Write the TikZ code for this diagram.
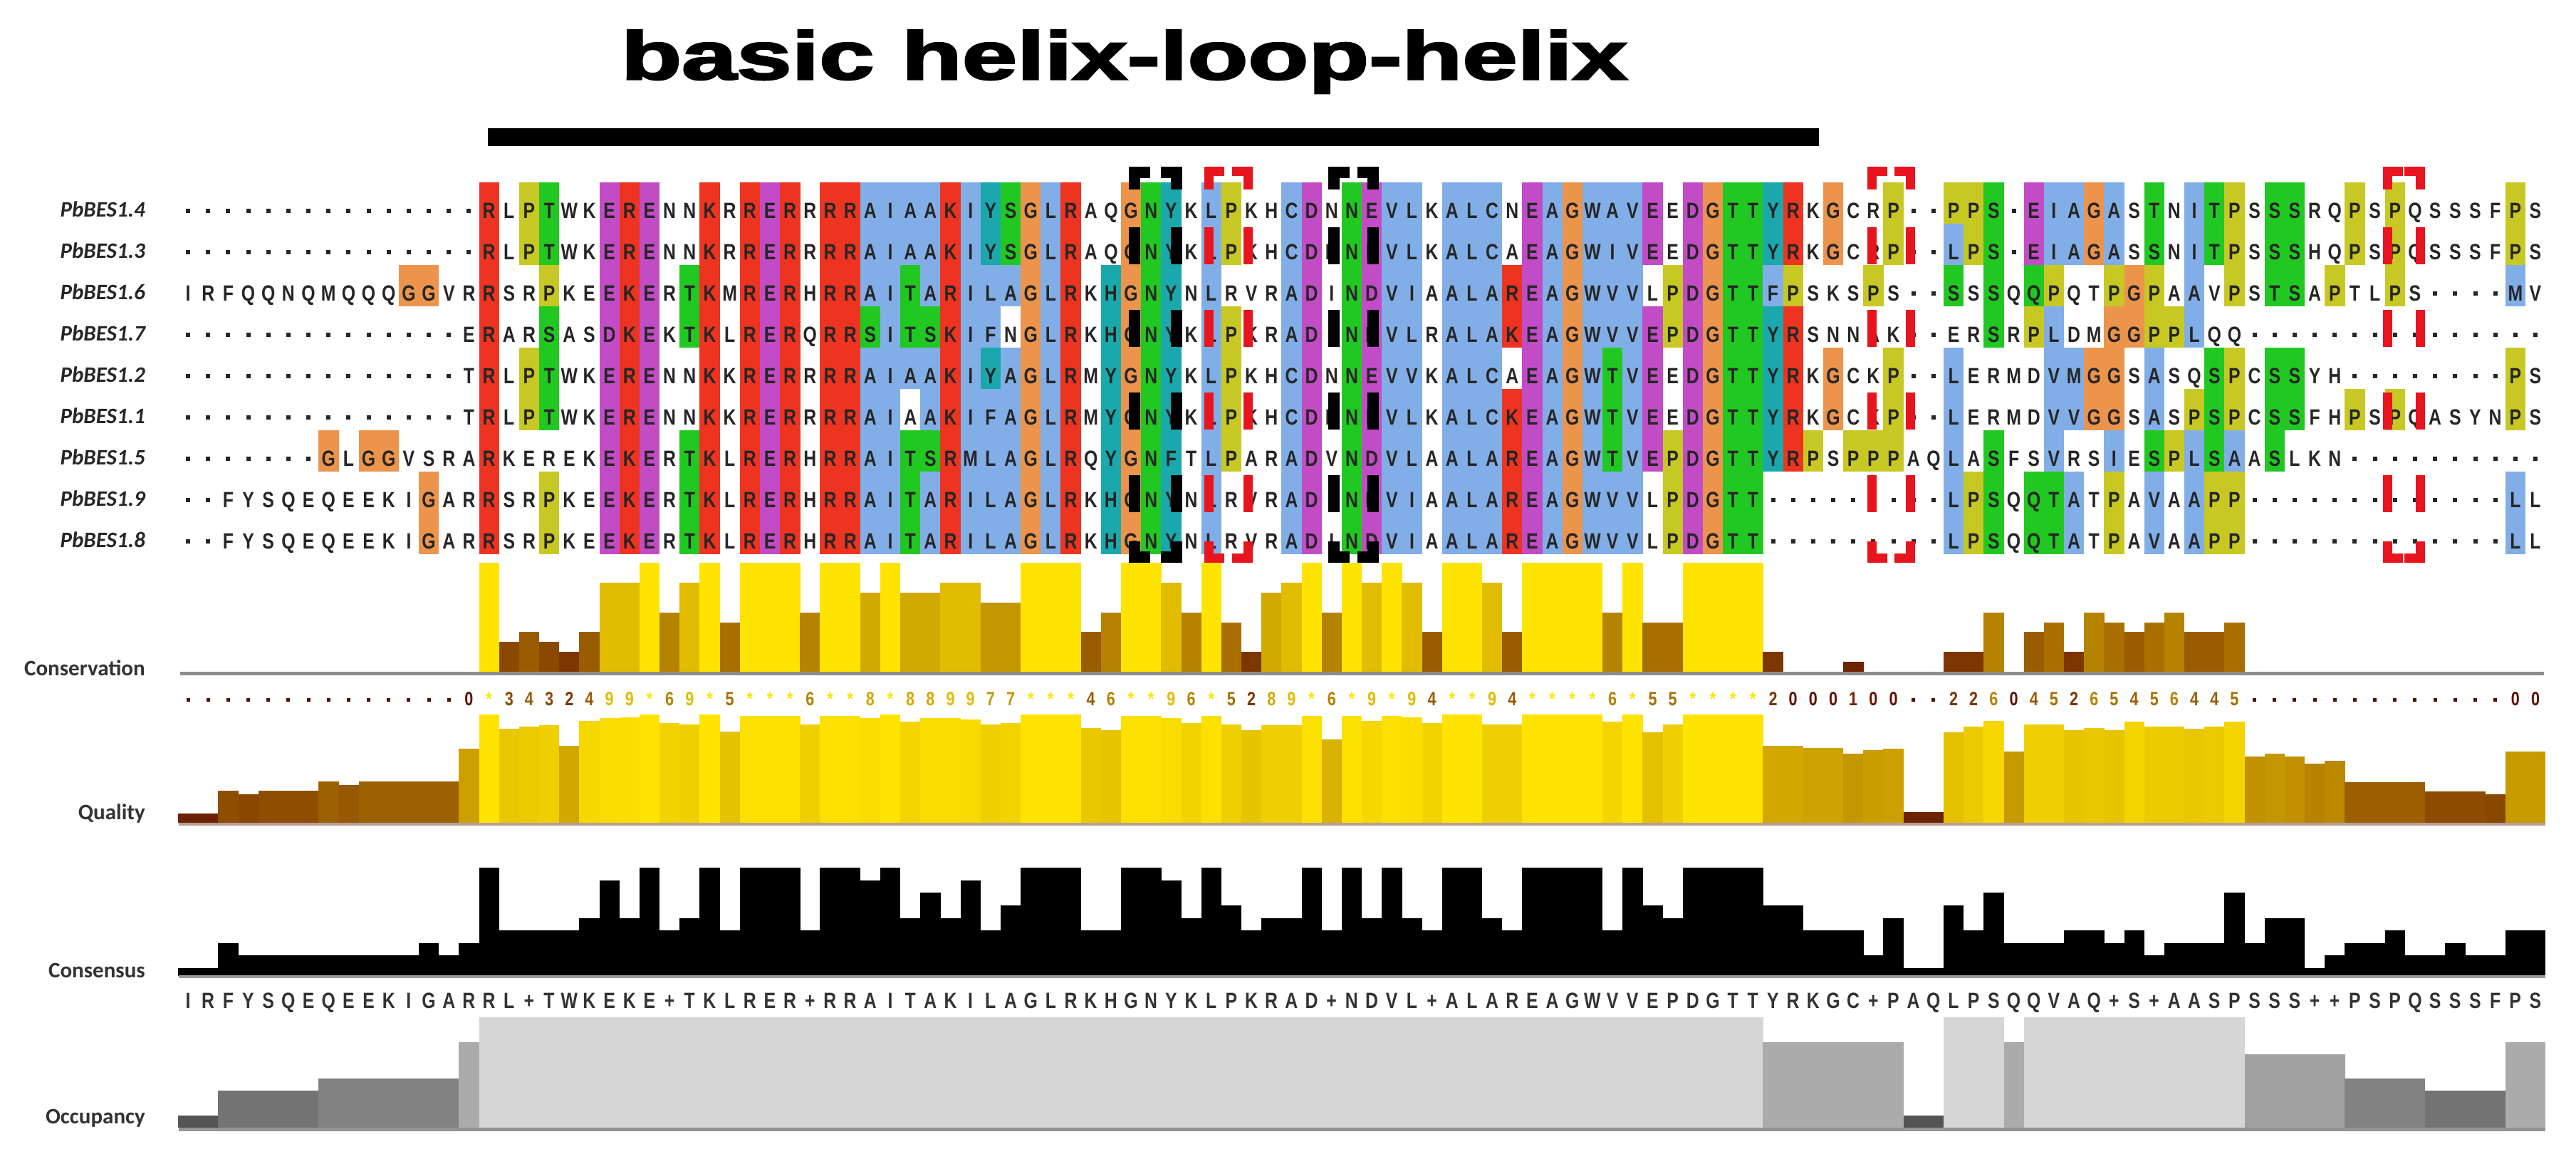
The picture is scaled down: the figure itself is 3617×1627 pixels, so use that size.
\documentclass[tikz,border=0pt]{standalone}
\usepackage{fontspec}
\usepackage{graphicx}
\setmainfont{Liberation Sans}
\newfontfamily\alnfont[FakeStretch=0.80]{Liberation Sans}
\newfontfamily\lblfont{Carlito}
\newfontfamily\titlefont[UprightFont=*-Bold, FakeBold=2.5]{Liberation Sans}
\definecolor{colr}{HTML}{EC3420}
\definecolor{colb}{HTML}{82AEE8}
\definecolor{colm}{HTML}{C24CC6}
\definecolor{colg}{HTML}{22C822}
\definecolor{colo}{HTML}{EC944C}
\definecolor{coly}{HTML}{C8C824}
\definecolor{colc}{HTML}{1AA8AC}
\definecolor{alntext}{HTML}{262626}
\definecolor{consLo}{HTML}{601000}
\definecolor{consHi}{HTML}{FFE400}
\definecolor{brred}{HTML}{E8141E}
\definecolor{occ1}{gray}{0.33}
\definecolor{occ2}{gray}{0.39}
\definecolor{occ3}{gray}{0.45}
\definecolor{occ4}{gray}{0.51}
\definecolor{occ5}{gray}{0.57}
\definecolor{occ6}{gray}{0.63}
\definecolor{occ7}{gray}{0.67}
\definecolor{occ8}{gray}{0.74}
\definecolor{occ9}{gray}{0.84}
\ExplSyntaxOn
\cs_new:Npn \mychat #1#2 { \str_item:Nn #1 {#2} }
\ExplSyntaxOff
\def\seqA{---------------RLPTWKERENNKRRERRRRAIAAKIYSGLRAQGNYKLPKHCDNNEVLKALCNEAGWAVEEDGTTYRKGCRP--PPS-EIAGASTNITPSSSRQPSPQSSSFPS}
\def\colA{wwwwwwwwwwwwwwwrwygwwmrmwwrwrmrwrrbbbbrbcgobrwwogcwbywwbmwgmbbwbbbwmbobbbmwmoggcrwowwywwyygwmbbobwgwbgywggwwywywwwwwyw}
\def\seqB{---------------RLPTWKERENNKRRERRRRAIAAKIYSGLRAQGNYKLPKHCDNNEVLKALCAEAGWIVEEDGTTYRKGCRP--LPS-EIAGASSNITPSSSHQPSPQSSSFPS}
\def\colB{wwwwwwwwwwwwwwwrwygwwmrmwwrwrmrwrrbbbbrbcgobrwwogcwbywwbmwgmbbwbbbwmbobbbmwmoggcrwowwywwbygwmbbobwgwbgywggwwywywwwwwyw}
\def\seqC{IRFQQNQMQQQGGVRRSRPKEEKERTKMRERHRRAITARILAGLRKHGNYNLRVRADINDVIAALAREAGWVVLPDGTTFPSKSPS--SSSQQPQTPGPAAVPSTSAPTLPS----MV}
\def\colC{wwwwwwwwwwwoowwrwwywwmrmwgrwrmrwrrbbgbrbbbobrwcogcwbwwwbmwgmbbwbbbrmbobbbwymoggbywwwywwwgwgwgywwyoywbwywggwywwywwwwwbw}
\def\seqD{--------------ERARSASDKEKTKLRERQRRSITSKIFNGLRKHGNYKLPKRADINDVLRALAKEAGWVVEPDGTTYRSNNAK--ERSRPLDMGGPPLQQ---------------}
\def\colD{wwwwwwwwwwwwwwwrwwgwwmrmwgrwrmrwrrgbggrbbwobrwcogcwbywwbmwgmbbwbbbrmbobbbmymoggcrwwwwwwwwwgwybwwooyybwwwwwwwwwwwwwwwww}
\def\seqE{--------------TRLPTWKERENNKKRERRRRAIAAKIYAGLRMYGNYKLPKHCDNNEVVKALCAEAGWTVEEDGTTYRKGCKP--LERMDVMGGSASQSPCSSYH--------PS}
\def\colE{wwwwwwwwwwwwwwwrwygwwmrmwwrwrmrwrrbbbbrbcbobrwcogcwbywwbmwgmbbwbbbwmbobgbmwmoggcrwowwywwbwwwwbboowbwwgywggwwwwwwwwwwyw}
\def\seqF{--------------TRLPTWKERENNKKRERRRRAIAAKIFAGLRMYGNYKLPKHCDNNEVLKALCKEAGWTVEEDGTTYRKGCKP--LERMDVVGGSASPSPCSSFHPSPQASYNPS}
\def\colF{wwwwwwwwwwwwwwwrwygwwmrmwwrwrmrwrrbbwbrbbbobrwcogcwbywwbmwgmbbwbbbrmbobgbmwmoggcrwowwywwbwwwwbboowbwygywggwwywywwwwwyw}
\def\seqG{-------GLGGVSRARKEREKEKERTKLRERHRRAITSRMLAGLRQYGNFTLPARADVNDVLAALAREAGWTVEPDGTTYRPSPPPAQLASFSVRSIESPLSAASLKN----------}
\def\colG{wwwwwwwowoowwwwrwwwwwmrmwgrwrmrwrrbbggrbbbobrwcogcwbywwbmwgmbbwbbbrmbobgbmymoggcrywyyywwbwgwwbwwbwgybgbwgwwwwwwwwwwwww}
\def\seqH{--FYSQEQEEKIGARRSRPKEEKERTKLRERHRRAITARILAGLRKHGNYNLRVRADINDVIAALAREAGWVVLPDGTT---------LPSQQTATPAVAAPP-------------LL}
\def\colH{wwwwwwwwwwwwowwrwwywwmrmwgrwrmrwrrbbgbrbbbobrwcogcwbwwwbmwgmbbwbbbrmbobbbwymoggwwwwwwwwwbygwggbwywbwbyywwwwwwwwwwwwwbw}
\def\consv{--------------0A3432499A69A5AAA6AA8A889977AAA46AA96A5289A6A9A94AA94AAAA6A55AAAA2000100--226045265456445-------------00}
\def\consl{IRFYSQEQEEKIGARRL+TWKEKE+TKLRER+RRAITAKILAGLRKHGNYKLPKRAD+NDVL+ALAREAGWVVEPDGTTYRKGC+PAQLPSQQVAQ+S+AASPSSS++PSPQSSSFPS}
\def\consn{1132222222223239444458594594999499895758469994499859645594959549954999949659999664442511647333443423337355123342232244}
\def\occn{1133333444444479999999999999999999999999999999999999999999999999999999999999999777777711999799999999999666664444333377}
\newcommand\alncell[4]{%
  \edef\tmpseq{#3}\edef\tmpcol{#4}%
  \edef\mych{\mychat\tmpseq{#1}}%
  \edef\mycc{\mychat\tmpcol{#1}}%
  \pgfmathsetmacro\xl{250+(#1-1)*28.17}%
  \pgfmathsetmacro\xc{\xl+14.085}%
  \pgfmathsetmacro\yt{256+(#2-1)*58}%
  \if w\mycc\else
    \fill[fill=col\mycc] (\xl,\yt) rectangle ++(28.4,58.3);
  \fi
  \if -\mych
    \fill[alntext] (\xc-3,\yt+37) rectangle ++(6,6);
  \else
    \node[aln] (a#2c#1) at (\xc,\yt+50) {\mych};
  \fi}
\newcommand\alnrow[3]{\foreach \ci in {1,...,118}{\alncell{\ci}{#1}{#2}{#3}}}
\newcommand\conscell[1]{%
  \edef\mycs{\mychat\consv{#1}}%
  \pgfmathsetmacro\xl{250+(#1-1)*28.17}%
  \pgfmathsetmacro\xc{\xl+14.085}%
  \if -\mycs
    \fill[consLo!85!black] (\xc-2.5,980) rectangle ++(5,5);
  \else
    \if A\mycs \def\sc{11}\else \edef\sc{\mycs}\fi
    \pgfmathtruncatemacro\pct{\sc*100/11}%
    \colorlet{tmpc}{consHi!\pct!consLo}%
    \ifnum\sc>0 \fill[tmpc] (\xl,943) rectangle ++(28.4,-\sc*13.9);\fi
    \if A\mycs \node[cdig,text=tmpc] (d#1) at (\xc,990) {*};%
    \else \node[cdig,text=tmpc] (d#1) at (\xc,990) {\mycs};\fi
  \fi}
\newcommand\brbox[4]{%
  \foreach \yt in {314,430,546,662}{%
    \fill[#3] (#1-#4/2,\yt+5) rectangle (#1+#4/2,\yt+57);
    \fill[#3] (#2-#4/2,\yt+5) rectangle (#2+#4/2,\yt+57);}
  \fill[#3] (#1-#4/2,234) rectangle (#1+#4/2,266);
  \fill[#3] (#1-#4/2,234) rectangle (#1+22,234+#4);
  \fill[#3] (#2-#4/2,234) rectangle (#2+#4/2,266);
  \fill[#3] (#2-22,234) rectangle (#2+#4/2,234+#4);
  \fill[#3] (#1-#4/2,760) rectangle (#1+#4/2,790);
  \fill[#3] (#1-#4/2,790-#4) rectangle (#1+22,790);
  \fill[#3] (#2-#4/2,760) rectangle (#2+#4/2,790);
  \fill[#3] (#2-22,790-#4) rectangle (#2+#4/2,790);}
\begin{document}
\begin{tikzpicture}[x=1pt,y=-1pt,
  aln/.style={inner sep=0pt, anchor=base, font=\alnfont\bfseries\fontsize{31}{31}\selectfont, text=alntext},
  lbl/.style={inner sep=0pt, anchor=base east, font=\lblfont\bfseries\itshape\fontsize{31}{31}\selectfont, text=black!85},
  clbl/.style={inner sep=0pt, anchor=base east, font=\lblfont\bfseries\fontsize{31}{31}\selectfont, text=black!80},
  cdig/.style={inner sep=0pt, anchor=base, font=\alnfont\bfseries\fontsize{27}{27}\selectfont}]
\useasboundingbox (0,0) rectangle (3617,1627);
\fill[white] (0,0) rectangle (3617,1627);
% title and domain bar
\node[anchor=north west, inner sep=0pt] (title) at (872,42) {\resizebox*{1412pt}{89pt}{\titlefont basic helix-loop-helix}};
\fill[black] (685,180) rectangle (2554,205);
% alignment
\alnrow{1}{\seqA}{\colA}
\alnrow{2}{\seqB}{\colB}
\alnrow{3}{\seqC}{\colC}
\alnrow{4}{\seqD}{\colD}
\alnrow{5}{\seqE}{\colE}
\alnrow{6}{\seqF}{\colF}
\alnrow{7}{\seqG}{\colG}
\alnrow{8}{\seqH}{\colH}
\alnrow{9}{\seqH}{\colH}
% sequence labels
\foreach \nm [count=\ri] in {PbBES1.4,PbBES1.3,PbBES1.6,PbBES1.7,PbBES1.2,PbBES1.1,PbBES1.5,PbBES1.9,PbBES1.8}
  {\node[lbl] (lab\ri) at (204,{304+(\ri-1)*58}) {\nm};}
% dashed boxes
\brbox{1593}{1652}{black}{16}
\brbox{1873}{1928}{black}{16}
\brbox{1697}{1752}{brred}{13}
\brbox{2628}{2682}{brred}{13}
\brbox{3352}{3398}{brred}{13}
% conservation
\foreach \ci in {1,...,118}{\conscell{\ci}}
\fill[black!45] (253,943) rectangle (3572,948);
\node[clbl] (lcons) at (204,948) {Conservation};
% quality
\foreach \h [count=\ci] in {13,13,45,40,45,45,45,58,53,58,58,58,58,58,104,152,132,135,137,108,143,147,148,152,140,138,152,128,150,150,150,138,150,150,147,152,142,147,147,145,138,140,152,152,152,133,130,150,150,147,140,150,138,130,137,137,150,117,150,143,150,148,140,152,152,138,138,152,152,152,152,142,152,127,138,152,152,152,152,108,108,105,105,97,102,104,15,15,127,135,143,100,138,138,130,133,130,142,135,135,132,135,142,93,97,93,83,87,57,57,57,57,44,44,44,40,100,100}
  {\pgfmathsetmacro\xl{250+(\ci-1)*28.17}%
   \pgfmathtruncatemacro\pct{\h*100/152}%
   \colorlet{tmpq}{consHi!\pct!consLo}%
   \fill[tmpq] (\xl,1155) rectangle ++(28.4,-\h);}
\fill[black!25!consLo!40!white] (251,1155) rectangle (3574,1159);
\node[clbl] (lqual) at (204,1150) {Quality};
% consensus histogram
\foreach \ci in {1,...,118}
  {\edef\mycn{\mychat\consn{\ci}}%
   \pgfmathsetmacro\xl{250+(\ci-1)*28.17}%
   \fill[black] (\xl,1370) rectangle ++(28.4,{-(17.6*\mycn-6.6)});}
\fill[black!40] (251,1369) rectangle (3574,1373);
\node[clbl] (lconsn) at (204,1372) {Consensus};
% consensus sequence
\foreach \ci in {1,...,118}
  {\edef\mycl{\mychat\consl{\ci}}%
   \pgfmathsetmacro\xc{264+(\ci-1)*28.17}%
   \node[aln,text=black!80] (s\ci) at (\xc,1415) {\mycl};}
% occupancy
\foreach \ci in {1,...,118}
  {\edef\myon{\mychat\occn{\ci}}%
   \pgfmathsetmacro\xl{250+(\ci-1)*28.17}%
   \fill[occ\myon] (\xl,1583) rectangle ++(28.4,{-17.2*\myon});}
\fill[black!42] (251,1583) rectangle (3574,1588);
\node[clbl] (locc) at (204,1577) {Occupancy};
\end{tikzpicture}
\end{document}
